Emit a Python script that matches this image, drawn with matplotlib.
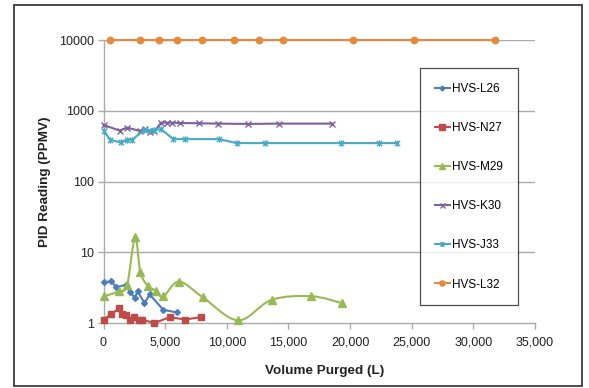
import numpy as np
import matplotlib
matplotlib.use("Agg")
import matplotlib.pyplot as plt
from matplotlib.path import Path
from matplotlib.patches import PathPatch, Rectangle
from matplotlib.lines import Line2D
from matplotlib.ticker import FixedLocator, FuncFormatter, NullLocator

plt.rcParams['font.family'] = ['Liberation Sans', 'DejaVu Sans']

# data (volume purged in L, PID reading in ppmv)
l26_x = [0, 630, 1040, 1850, 2180, 2530, 2770, 3320, 3750, 4840, 5930]
l26_y = [3.76, 3.88, 3.2, 3.49, 2.72, 2.27, 2.81, 1.91, 2.53, 1.54, 1.41]

n27_x = [0, 600, 1250, 1520, 1850, 2120, 2500, 2880, 3100, 4130, 5380, 6630, 7880]
n27_y = [1.12, 1.32, 1.61, 1.32, 1.29, 1.12, 1.21, 1.12, 1.12, 1.0, 1.21, 1.12, 1.21]

m29_x = [0, 1250, 1910, 2560, 2990, 3590, 4240, 4840, 6120, 8040, 10920, 13640, 16850, 19350]
m29_y = [2.37, 2.81, 3.41, 16.4, 5.19, 3.38, 2.87, 2.37, 3.85, 2.32, 1.09, 2.13, 2.39, 1.91]

k30_x = [0, 1300, 1910, 2930, 3400, 3750, 4130, 4680, 5170, 5580, 6190, 7740, 9290, 11740, 14260, 18530]
k30_y = [631, 524, 578, 519, 548, 507, 514, 679, 679, 679, 671, 665, 658, 651, 658, 658]

j33_x = [0, 550, 1420, 1910, 2310, 3320, 3750, 4130, 4680, 5660, 6630, 9370, 10790, 13120, 19230, 22340, 23800]
j33_y = [524, 388, 356, 388, 388, 536, 524, 536, 548, 397, 397, 397, 349, 349, 349, 349, 349]

l32_x = [500, 3000, 4500, 6000, 8000, 10600, 12600, 14600, 20200, 25200, 31750]
l32_y = [10000, 10000, 10000, 10000, 10000, 10000, 10000, 10000, 10000, 10000, 10000]

labels = ['HVS-L26', 'HVS-N27', 'HVS-M29', 'HVS-K30', 'HVS-J33', 'HVS-L32']
colors = ['#4A7EBB', '#BE4B48', '#98B954', '#7D60A0', '#46AAC5', '#E58A3C']

# excel-like asterisk marker (x plus vertical bar)
asterisk = Path([(-1, -1), (1, 1), (-1, 1), (1, -1), (0, -1.2), (0, 1.2)],
                [Path.MOVETO, Path.LINETO, Path.MOVETO, Path.LINETO, Path.MOVETO, Path.LINETO])


def smooth_path(xs, ys, sx=12.33e-3, sy=71.3):
    # catmull-rom style bezier (like excel "smoothed line"), built in screen-like space
    p = np.column_stack([np.array(xs) * sx, np.log10(ys) * sy])
    ext = np.vstack([p[0], p, p[-1]])
    verts = [p[0]]
    for i in range(len(p) - 1):
        p0, p1, p2, p3 = ext[i], ext[i + 1], ext[i + 2], ext[i + 3]
        verts += [p1 + (p2 - p0) / 6, p2 - (p3 - p1) / 6, p2]
    verts = np.array(verts)
    data = np.column_stack([verts[:, 0] / sx, 10 ** (verts[:, 1] / sy)])
    codes = [Path.MOVETO] + [Path.CURVE4] * (len(verts) - 1)
    return Path(data, codes)


fig = plt.figure(figsize=(5.89, 3.88), dpi=100)
ax = fig.add_axes([103.5 / 589, 1 - 323 / 388, (535 - 103.5) / 589, (323 - 40) / 388])

ax.set_yscale('log')
ax.set_ylim(1, 10000)
ax.set_xlim(0, 35000)

grid_c = '#ABABAB'
for v in [10, 100, 1000, 10000]:
    ax.axhline(v, color=grid_c, lw=1, zorder=0)

lw = 1.5
ax.plot(l26_x, l26_y, color=colors[0], lw=lw, marker='D', ms=3.0, clip_on=False, zorder=3)
ax.plot(n27_x, n27_y, color=colors[1], lw=lw, marker='s', ms=4.6, clip_on=False, zorder=3)
ax.add_patch(PathPatch(smooth_path(m29_x, m29_y), facecolor='none', edgecolor=colors[2],
                       lw=lw, zorder=3, clip_on=False))
ax.plot(m29_x, m29_y, color=colors[2], ls='none', marker='^', ms=5.2, clip_on=False, zorder=3)
ax.plot(k30_x, k30_y, color=colors[3], lw=lw, marker='x', ms=4.5, mew=1, clip_on=False, zorder=3)
ax.plot(j33_x, j33_y, color=colors[4], lw=lw, marker=asterisk, ms=4.5, mew=1, clip_on=False, zorder=3)
ax.plot(l32_x, l32_y, color=colors[5], lw=lw, marker='o', ms=4.6, clip_on=False, zorder=3)

for s in ['top', 'right']:
    ax.spines[s].set_visible(False)
for s in ['left', 'bottom']:
    ax.spines[s].set_color(grid_c)
    ax.spines[s].set_linewidth(1)

ax.xaxis.set_major_locator(FixedLocator(range(0, 35001, 5000)))
ax.xaxis.set_major_formatter(FuncFormatter(lambda v, p: f'{int(v):,}'))
ax.yaxis.set_major_locator(FixedLocator([1, 10, 100, 1000, 10000]))
ax.yaxis.set_major_formatter(FuncFormatter(lambda v, p: f'{int(round(v))}'))
ax.yaxis.set_minor_locator(NullLocator())
ax.xaxis.set_minor_locator(NullLocator())
ax.tick_params(axis='both', length=4, width=1, color=grid_c, labelsize=9, labelcolor='#222222')
ax.tick_params(axis='x', pad=6)
ax.tick_params(axis='y', pad=3)

fig.text(324.5 / 589, 1 - 371 / 388, 'Volume Purged (L)', ha='center', va='center',
         fontsize=9.7, fontweight='bold', color='#222222')
fig.text(45 / 589, 1 - 182 / 388, 'PID Reading (PPMV)', ha='center', va='center',
         rotation=90, fontsize=9.7, fontweight='bold', color='#222222')

markers = ['D', 's', '^', 'x', asterisk, 'o']
msizes = [3.0, 4.6, 5.2, 4.5, 4.5, 4.6]
handles = [Line2D([], [], color=c, lw=lw, marker=m, ms=s * 0.8, mew=1)
           for c, m, s in zip(colors, markers, msizes)]
leg = fig.legend(handles, labels, loc='upper left', bbox_to_anchor=(420 / 589, 1 - 68 / 388),
                 bbox_transform=fig.transFigure, borderaxespad=0, fontsize=8.5,
                 labelspacing=2.3, borderpad=1.25, handlelength=1.3, handletextpad=0.15,
                 fancybox=False, frameon=True)
leg.get_frame().set_edgecolor('#222222')
leg.get_frame().set_linewidth(0.9)

# outer chart border
fig.patches.append(Rectangle((13.5 / 589, 1 - 386 / 388), (581.5 - 13.5) / 589, (386 - 5) / 388,
                             transform=fig.transFigure, fill=False, edgecolor='#3A3A3A', lw=1.3))

fig.savefig('out.png', dpi=100)
